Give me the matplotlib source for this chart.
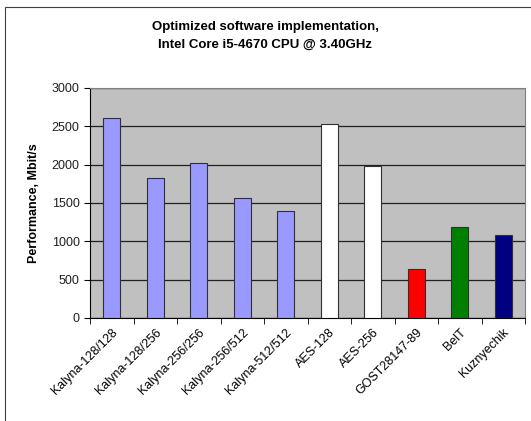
import numpy as np
import matplotlib.pyplot as plt
from matplotlib.patches import Rectangle

plt.rcParams['font.family'] = ['Liberation Sans', 'DejaVu Sans']

names = ["Kalyna-128/128", "Kalyna-128/256", "Kalyna-256/256", "Kalyna-256/512",
         "Kalyna-512/512", "AES-128", "AES-256", "GOST28147-89", "BelT", "Kuznyechik"]
perf = [2610, 1820, 2025, 1565, 1390, 2525, 1980, 635, 1190, 1085]
colors = ["#9999ff"] * 5 + ["#ffffff"] * 2 + ["#ff0000", "#008000", "#000080"]

fig = plt.figure(figsize=(5.31, 4.21), dpi=100)
fig.patches.append(Rectangle((5 / 531, -0.01), 1.02, (421 - 7) / 421 + 0.01,
                             transform=fig.transFigure, fill=False,
                             edgecolor="#404040", linewidth=0.8))
ax = fig.add_axes([90 / 531, 1 - 318 / 421, 435 / 531, 230 / 421])

x = np.arange(len(names))
ax.bar(x, perf, width=0.39, color=colors, edgecolor="#303030", linewidth=0.8, zorder=3)

ax.set_facecolor("#c0c0c0")
ax.set_xlim(-0.5, len(names) - 0.5)
ax.set_ylim(0, 3000)
ax.set_yticks(range(0, 3001, 500))
ax.yaxis.grid(True, color="#202020", linewidth=0.9, zorder=1)
ax.set_axisbelow(True)

ax.set_xticks(x)
ax.set_xticklabels(names, rotation=45, ha="right", rotation_mode="anchor", fontsize=9)
ax.tick_params(axis="x", which="major", length=0, pad=6)
ax.set_xticks(np.arange(-0.5, len(names)), minor=True)
ax.tick_params(axis="x", which="minor", length=4, color="black")
ax.tick_params(axis="y", length=4, labelsize=9, colors="black", labelcolor="#202020")

for side in ["top", "right"]:
    ax.spines[side].set_color("#808080")
ax.spines["left"].set_color("black")
ax.spines["bottom"].set_color("black")

ax.set_ylabel("Performance, Mbit/s", fontsize=9, fontweight="bold", labelpad=8)
fig.text(0.5, 1 - 36 / 421, "Optimized software implementation,\nIntel Core i5-4670 CPU @ 3.40GHz",
         ha="center", va="center", fontsize=9.5, fontweight="bold", linespacing=1.6)

plt.savefig("out.png", dpi=100)
